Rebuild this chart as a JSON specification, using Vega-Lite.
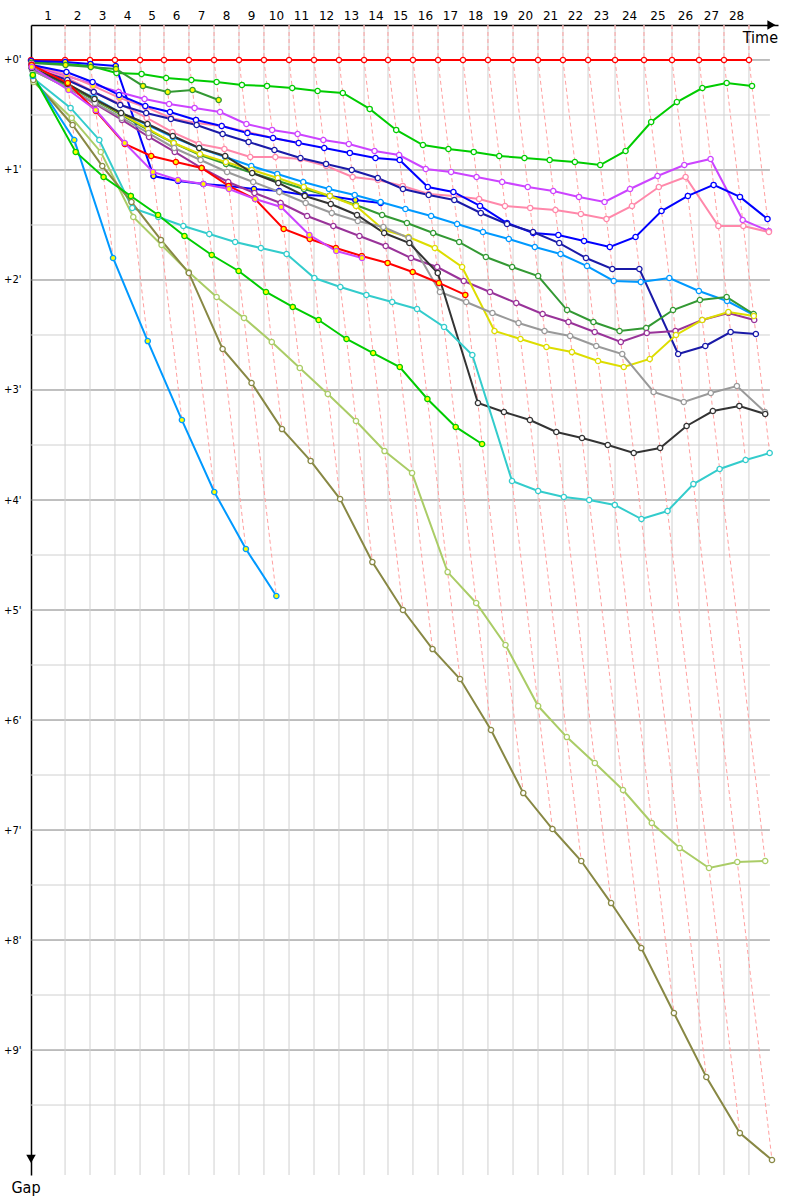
{
"$schema": "https://vega.github.io/schema/vega-lite/v6.json",
"width": 747, "height": 1150,
"autosize": {"type": "none"},
"padding": {"left": 31, "top": 25, "right": 22, "bottom": 25},
"background": "white",
"config": {"view": {"stroke": null}, "axis": {"grid": false, "ticks": false, "domainColor": "#000000", "domainWidth": 1.5, "labelColor": "#000000", "labelFont": "DejaVu Sans"}},
"datasets": {
"hgrid": [{"g":0},{"g":0.5},{"g":1},{"g":1.5},{"g":2},{"g":2.5},{"g":3},{"g":3.5},{"g":4},{"g":4.5},{"g":5},{"g":5.5},{"g":6},{"g":6.5},{"g":7},{"g":7.5},{"g":8},{"g":8.5},{"g":9},{"g":9.5}],
"laps": [{"lap":1,"tm":1.33},{"lap":2,"tm":3.63},{"lap":3,"tm":5.59},{"lap":4,"tm":7.54},{"lap":5,"tm":9.45},{"lap":6,"tm":11.37},{"lap":7,"tm":13.32},{"lap":8,"tm":15.27},{"lap":9,"tm":17.23},{"lap":10,"tm":19.18},{"lap":11,"tm":21.13},{"lap":12,"tm":23.09},{"lap":13,"tm":25.04},{"lap":14,"tm":26.95},{"lap":15,"tm":28.87},{"lap":16,"tm":30.82},{"lap":17,"tm":32.77},{"lap":18,"tm":34.73},{"lap":19,"tm":36.68},{"lap":20,"tm":38.63},{"lap":21,"tm":40.59},{"lap":22,"tm":42.54},{"lap":23,"tm":44.57},{"lap":24,"tm":46.76},{"lap":25,"tm":48.98},{"lap":26,"tm":51.13},{"lap":27,"tm":53.16},{"lap":28,"tm":55.12}],
"marks": [{"t":57.85,"g":-0.318,"s":"triangle-right"},{"t":0,"g":9.99,"s":"triangle-down"}],
"titles": [{"t":58.36,"g":-0.318,"txt":"Time"}],
"titles2": [{"t":0,"g":10.136,"txt":"Gap"}],
"pts": [
{"d":"A","l":0,"t":0,"g":0},{"d":"A","l":1,"t":2.66,"g":0},{"d":"A","l":2,"t":4.61,"g":0},{"d":"A","l":3,"t":6.56,"g":0},{"d":"A","l":4,"t":8.52,"g":0},{"d":"A","l":5,"t":10.39,"g":0},{"d":"A","l":6,"t":12.34,"g":0},{"d":"A","l":7,"t":14.3,"g":0},{"d":"A","l":8,"t":16.25,"g":0},{"d":"A","l":9,"t":18.2,"g":0},{"d":"A","l":10,"t":20.16,"g":0},{"d":"A","l":11,"t":22.11,"g":0},{"d":"A","l":12,"t":24.06,"g":0},{"d":"A","l":13,"t":26.02,"g":0},{"d":"A","l":14,"t":27.89,"g":0},{"d":"A","l":15,"t":29.84,"g":0},{"d":"A","l":16,"t":31.8,"g":0},{"d":"A","l":17,"t":33.75,"g":0},{"d":"A","l":18,"t":35.7,"g":0},{"d":"A","l":19,"t":37.66,"g":0},{"d":"A","l":20,"t":39.61,"g":0},{"d":"A","l":21,"t":41.56,"g":0},{"d":"A","l":22,"t":43.52,"g":0},{"d":"A","l":23,"t":45.63,"g":0},{"d":"A","l":24,"t":47.89,"g":0},{"d":"A","l":25,"t":50.08,"g":0},{"d":"A","l":26,"t":52.19,"g":0},{"d":"A","l":27,"t":54.14,"g":0},{"d":"A","l":28,"t":56.09,"g":0},
{"d":"B","l":0,"t":0.02,"g":0.018},{"d":"B","l":1,"t":2.69,"g":0.036},{"d":"B","l":2,"t":4.66,"g":0.055},{"d":"B","l":3,"t":6.68,"g":0.118},{"d":"B","l":4,"t":8.64,"g":0.127},{"d":"B","l":5,"t":10.56,"g":0.164},{"d":"B","l":6,"t":12.53,"g":0.182},{"d":"B","l":7,"t":14.5,"g":0.2},{"d":"B","l":8,"t":16.48,"g":0.227},{"d":"B","l":9,"t":18.44,"g":0.236},{"d":"B","l":10,"t":20.41,"g":0.255},{"d":"B","l":11,"t":22.39,"g":0.282},{"d":"B","l":12,"t":24.36,"g":0.3},{"d":"B","l":13,"t":26.46,"g":0.445},{"d":"B","l":14,"t":28.53,"g":0.636},{"d":"B","l":15,"t":30.62,"g":0.773},{"d":"B","l":16,"t":32.61,"g":0.809},{"d":"B","l":17,"t":34.59,"g":0.836},{"d":"B","l":18,"t":36.58,"g":0.873},{"d":"B","l":19,"t":38.55,"g":0.891},{"d":"B","l":20,"t":40.52,"g":0.909},{"d":"B","l":21,"t":42.49,"g":0.927},{"d":"B","l":22,"t":44.47,"g":0.955},{"d":"B","l":23,"t":46.45,"g":0.827},{"d":"B","l":24,"t":48.45,"g":0.564},{"d":"B","l":25,"t":50.46,"g":0.382},{"d":"B","l":26,"t":52.45,"g":0.255},{"d":"B","l":27,"t":54.35,"g":0.209},{"d":"B","l":28,"t":56.33,"g":0.236},
{"d":"C","l":0,"t":0.01,"g":0.009},{"d":"C","l":1,"t":2.67,"g":0.018},{"d":"C","l":2,"t":4.65,"g":0.036},{"d":"C","l":3,"t":6.62,"g":0.055},{"d":"C","l":4,"t":9.57,"g":1.055},{"d":"C","l":5,"t":11.49,"g":1.1},{"d":"C","l":6,"t":13.47,"g":1.127},{"d":"C","l":7,"t":15.44,"g":1.145},{"d":"C","l":8,"t":17.42,"g":1.173},{"d":"C","l":9,"t":19.39,"g":1.191},{"d":"C","l":10,"t":21.38,"g":1.227},{"d":"C","l":11,"t":23.35,"g":1.236},{"d":"C","l":12,"t":25.34,"g":1.273},{"d":"C","l":13,"t":27.32,"g":1.3},
{"d":"D","l":0,"t":0.03,"g":0.027},{"d":"D","l":1,"t":2.7,"g":0.045},{"d":"D","l":2,"t":4.67,"g":0.064},{"d":"D","l":3,"t":6.64,"g":0.082},{"d":"D","l":4,"t":8.75,"g":0.236},{"d":"D","l":5,"t":10.68,"g":0.291},{"d":"D","l":6,"t":12.62,"g":0.273},{"d":"D","l":7,"t":14.66,"g":0.364},
{"d":"E","l":0,"t":0.05,"g":0.055},{"d":"E","l":1,"t":2.8,"g":0.145},{"d":"E","l":2,"t":4.83,"g":0.218},{"d":"E","l":3,"t":6.85,"g":0.291},{"d":"E","l":4,"t":8.87,"g":0.355},{"d":"E","l":5,"t":10.79,"g":0.4},{"d":"E","l":6,"t":12.78,"g":0.436},{"d":"E","l":7,"t":14.77,"g":0.473},{"d":"E","l":8,"t":16.83,"g":0.582},{"d":"E","l":9,"t":18.84,"g":0.636},{"d":"E","l":10,"t":20.83,"g":0.673},{"d":"E","l":11,"t":22.84,"g":0.727},{"d":"E","l":12,"t":24.83,"g":0.764},{"d":"E","l":13,"t":26.84,"g":0.827},{"d":"E","l":14,"t":28.76,"g":0.864},{"d":"E","l":15,"t":30.84,"g":0.991},{"d":"E","l":16,"t":32.82,"g":1.018},{"d":"E","l":17,"t":34.81,"g":1.064},{"d":"E","l":18,"t":36.81,"g":1.109},{"d":"E","l":19,"t":38.81,"g":1.155},{"d":"E","l":20,"t":40.8,"g":1.191},{"d":"E","l":21,"t":42.81,"g":1.245},{"d":"E","l":22,"t":44.81,"g":1.291},{"d":"E","l":23,"t":46.8,"g":1.173},{"d":"E","l":24,"t":48.95,"g":1.055},{"d":"E","l":25,"t":51.04,"g":0.955},{"d":"E","l":26,"t":53.09,"g":0.9},{"d":"E","l":27,"t":55.6,"g":1.455},{"d":"E","l":28,"t":57.65,"g":1.555},
{"d":"F","l":0,"t":0.07,"g":0.073},{"d":"F","l":1,"t":2.82,"g":0.164},{"d":"F","l":2,"t":4.9,"g":0.291},{"d":"F","l":3,"t":6.96,"g":0.4},{"d":"F","l":4,"t":9.04,"g":0.527},{"d":"F","l":5,"t":11.05,"g":0.655},{"d":"F","l":6,"t":13.11,"g":0.764},{"d":"F","l":7,"t":15.11,"g":0.809},{"d":"F","l":8,"t":17.13,"g":0.882},{"d":"F","l":9,"t":19.09,"g":0.882},{"d":"F","l":10,"t":21.06,"g":0.9},{"d":"F","l":11,"t":23.07,"g":0.964},{"d":"F","l":12,"t":25.13,"g":1.064},{"d":"F","l":13,"t":27.11,"g":1.091},{"d":"F","l":14,"t":29.04,"g":1.145},{"d":"F","l":15,"t":31.06,"g":1.218},{"d":"F","l":16,"t":33.03,"g":1.236},{"d":"F","l":17,"t":35.01,"g":1.264},{"d":"F","l":18,"t":37.03,"g":1.327},{"d":"F","l":19,"t":39.0,"g":1.345},{"d":"F","l":20,"t":40.97,"g":1.364},{"d":"F","l":21,"t":42.96,"g":1.4},{"d":"F","l":22,"t":44.96,"g":1.445},{"d":"F","l":23,"t":46.95,"g":1.327},{"d":"F","l":24,"t":49.05,"g":1.155},{"d":"F","l":25,"t":51.14,"g":1.064},{"d":"F","l":26,"t":53.7,"g":1.509},{"d":"F","l":27,"t":55.65,"g":1.509},{"d":"F","l":28,"t":57.65,"g":1.564},
{"d":"G","l":0,"t":0.04,"g":0.036},{"d":"G","l":1,"t":2.79,"g":0.136},{"d":"G","l":2,"t":4.85,"g":0.236},{"d":"G","l":3,"t":6.91,"g":0.345},{"d":"G","l":4,"t":8.94,"g":0.427},{"d":"G","l":5,"t":10.92,"g":0.527},{"d":"G","l":6,"t":12.92,"g":0.573},{"d":"G","l":7,"t":14.9,"g":0.6},{"d":"G","l":8,"t":16.91,"g":0.655},{"d":"G","l":9,"t":18.91,"g":0.709},{"d":"G","l":10,"t":20.91,"g":0.755},
{"d":"H","l":0,"t":0.05,"g":0.045},{"d":"H","l":1,"t":2.77,"g":0.109},{"d":"H","l":2,"t":4.81,"g":0.2},{"d":"H","l":3,"t":6.88,"g":0.318},{"d":"H","l":4,"t":8.93,"g":0.418},{"d":"H","l":5,"t":10.86,"g":0.473},{"d":"H","l":6,"t":12.89,"g":0.545},{"d":"H","l":7,"t":14.9,"g":0.6},{"d":"H","l":8,"t":16.91,"g":0.664},{"d":"H","l":9,"t":18.91,"g":0.709},{"d":"H","l":10,"t":20.91,"g":0.755},{"d":"H","l":11,"t":22.91,"g":0.8},{"d":"H","l":12,"t":24.91,"g":0.845},{"d":"H","l":13,"t":26.91,"g":0.891},{"d":"H","l":14,"t":28.8,"g":0.909},{"d":"H","l":15,"t":31.0,"g":1.155},{"d":"H","l":16,"t":33.0,"g":1.2},{"d":"H","l":17,"t":35.08,"g":1.327},{"d":"H","l":18,"t":37.19,"g":1.482},{"d":"H","l":19,"t":39.23,"g":1.573},{"d":"H","l":20,"t":41.2,"g":1.591},{"d":"H","l":21,"t":43.21,"g":1.645},{"d":"H","l":22,"t":45.22,"g":1.7},{"d":"H","l":23,"t":47.23,"g":1.609},{"d":"H","l":24,"t":49.26,"g":1.373},{"d":"H","l":25,"t":51.32,"g":1.236},{"d":"H","l":26,"t":53.33,"g":1.136},{"d":"H","l":27,"t":55.39,"g":1.245},{"d":"H","l":28,"t":57.54,"g":1.445},
{"d":"I","l":0,"t":0.07,"g":0.073},{"d":"I","l":1,"t":2.84,"g":0.182},{"d":"I","l":2,"t":4.9,"g":0.291},{"d":"I","l":3,"t":6.97,"g":0.409},{"d":"I","l":4,"t":9.0,"g":0.482},{"d":"I","l":5,"t":10.93,"g":0.536},{"d":"I","l":6,"t":12.94,"g":0.591},{"d":"I","l":7,"t":14.97,"g":0.673},{"d":"I","l":8,"t":17.0,"g":0.745},{"d":"I","l":9,"t":19.02,"g":0.818},{"d":"I","l":10,"t":21.05,"g":0.891},{"d":"I","l":11,"t":23.05,"g":0.945},{"d":"I","l":12,"t":25.06,"g":1.0},{"d":"I","l":13,"t":27.09,"g":1.073},{"d":"I","l":14,"t":29.06,"g":1.173},{"d":"I","l":15,"t":31.07,"g":1.227},{"d":"I","l":16,"t":33.07,"g":1.273},{"d":"I","l":17,"t":35.14,"g":1.391},{"d":"I","l":18,"t":37.19,"g":1.491},{"d":"I","l":19,"t":39.22,"g":1.564},{"d":"I","l":20,"t":41.27,"g":1.664},{"d":"I","l":21,"t":43.36,"g":1.8},{"d":"I","l":22,"t":45.42,"g":1.9},{"d":"I","l":23,"t":47.53,"g":1.9},{"d":"I","l":24,"t":50.56,"g":2.673},{"d":"I","l":25,"t":52.68,"g":2.6},{"d":"I","l":26,"t":54.66,"g":2.473},{"d":"I","l":27,"t":56.63,"g":2.491},
{"d":"J","l":0,"t":0.09,"g":0.091},{"d":"J","l":1,"t":2.88,"g":0.227},{"d":"J","l":2,"t":4.95,"g":0.345},{"d":"J","l":3,"t":7.04,"g":0.482},{"d":"J","l":4,"t":9.11,"g":0.591},{"d":"J","l":5,"t":11.09,"g":0.7},{"d":"J","l":6,"t":13.14,"g":0.8},{"d":"J","l":7,"t":15.18,"g":0.882},{"d":"J","l":8,"t":17.21,"g":0.964},{"d":"J","l":9,"t":19.24,"g":1.036},{"d":"J","l":10,"t":21.27,"g":1.109},{"d":"J","l":11,"t":23.28,"g":1.173},{"d":"J","l":12,"t":25.29,"g":1.227},{"d":"J","l":13,"t":27.31,"g":1.291},{"d":"J","l":14,"t":29.25,"g":1.355},{"d":"J","l":15,"t":31.26,"g":1.418},{"d":"J","l":16,"t":33.29,"g":1.491},{"d":"J","l":17,"t":35.31,"g":1.564},{"d":"J","l":18,"t":37.33,"g":1.627},{"d":"J","l":19,"t":39.36,"g":1.7},{"d":"J","l":20,"t":41.37,"g":1.764},{"d":"J","l":21,"t":43.44,"g":1.873},{"d":"J","l":22,"t":45.53,"g":2.009},{"d":"J","l":23,"t":47.64,"g":2.018},{"d":"J","l":24,"t":49.87,"g":1.982},{"d":"J","l":25,"t":52.18,"g":2.1},{"d":"J","l":26,"t":54.38,"g":2.191},{"d":"J","l":27,"t":56.46,"g":2.318},
{"d":"K","l":0,"t":0.07,"g":0.073},{"d":"K","l":1,"t":2.89,"g":0.236},{"d":"K","l":2,"t":4.97,"g":0.364},{"d":"K","l":3,"t":7.06,"g":0.5},{"d":"K","l":4,"t":9.15,"g":0.636},{"d":"K","l":5,"t":11.15,"g":0.755},{"d":"K","l":6,"t":13.21,"g":0.864},{"d":"K","l":7,"t":15.24,"g":0.945},{"d":"K","l":8,"t":17.28,"g":1.027},{"d":"K","l":9,"t":19.3,"g":1.1},{"d":"K","l":10,"t":21.33,"g":1.173},{"d":"K","l":11,"t":23.35,"g":1.236},{"d":"K","l":12,"t":25.38,"g":1.318},{"d":"K","l":13,"t":27.43,"g":1.409},{"d":"K","l":14,"t":29.37,"g":1.482},{"d":"K","l":15,"t":31.42,"g":1.573},{"d":"K","l":16,"t":33.45,"g":1.655},{"d":"K","l":17,"t":35.54,"g":1.791},{"d":"K","l":18,"t":37.59,"g":1.882},{"d":"K","l":19,"t":39.62,"g":1.964},{"d":"K","l":20,"t":41.88,"g":2.273},{"d":"K","l":21,"t":43.94,"g":2.382},{"d":"K","l":22,"t":45.98,"g":2.464},{"d":"K","l":23,"t":48.06,"g":2.436},{"d":"K","l":24,"t":50.16,"g":2.273},{"d":"K","l":25,"t":52.26,"g":2.182},{"d":"K","l":26,"t":54.35,"g":2.155},{"d":"K","l":27,"t":56.45,"g":2.309},
{"d":"L","l":0,"t":0.09,"g":0.091},{"d":"L","l":1,"t":2.91,"g":0.255},{"d":"L","l":2,"t":5.01,"g":0.4},{"d":"L","l":3,"t":7.11,"g":0.545},{"d":"L","l":4,"t":9.22,"g":0.7},{"d":"L","l":5,"t":11.23,"g":0.836},{"d":"L","l":6,"t":13.33,"g":0.982},{"d":"L","l":7,"t":15.41,"g":1.109},{"d":"L","l":8,"t":17.46,"g":1.209},{"d":"L","l":9,"t":19.5,"g":1.3},{"d":"L","l":10,"t":21.57,"g":1.418},{"d":"L","l":11,"t":23.62,"g":1.509},{"d":"L","l":12,"t":25.66,"g":1.6},{"d":"L","l":13,"t":27.71,"g":1.691},{"d":"L","l":14,"t":29.69,"g":1.8},{"d":"L","l":15,"t":31.73,"g":1.882},{"d":"L","l":16,"t":33.81,"g":2.009},{"d":"L","l":17,"t":35.86,"g":2.109},{"d":"L","l":18,"t":37.91,"g":2.209},{"d":"L","l":19,"t":39.97,"g":2.309},{"d":"L","l":20,"t":41.99,"g":2.382},{"d":"L","l":21,"t":44.04,"g":2.473},{"d":"L","l":22,"t":46.08,"g":2.564},{"d":"L","l":23,"t":48.11,"g":2.482},{"d":"L","l":24,"t":50.35,"g":2.464},{"d":"L","l":25,"t":52.44,"g":2.364},{"d":"L","l":26,"t":54.49,"g":2.3},{"d":"L","l":27,"t":56.5,"g":2.364},
{"d":"M","l":0,"t":0.06,"g":0.064},{"d":"M","l":1,"t":2.87,"g":0.218},{"d":"M","l":2,"t":4.96,"g":0.355},{"d":"M","l":3,"t":7.05,"g":0.491},{"d":"M","l":4,"t":9.14,"g":0.627},{"d":"M","l":5,"t":11.15,"g":0.755},{"d":"M","l":6,"t":13.2,"g":0.855},{"d":"M","l":7,"t":15.22,"g":0.927},{"d":"M","l":8,"t":17.25,"g":1.0},{"d":"M","l":9,"t":19.28,"g":1.073},{"d":"M","l":10,"t":21.31,"g":1.155},{"d":"M","l":11,"t":23.35,"g":1.236},{"d":"M","l":12,"t":25.39,"g":1.327},{"d":"M","l":13,"t":27.56,"g":1.545},{"d":"M","l":14,"t":29.5,"g":1.609},{"d":"M","l":15,"t":31.55,"g":1.709},{"d":"M","l":16,"t":33.68,"g":1.882},{"d":"M","l":17,"t":36.21,"g":2.464},{"d":"M","l":18,"t":38.24,"g":2.536},{"d":"M","l":19,"t":40.27,"g":2.609},{"d":"M","l":20,"t":42.26,"g":2.655},{"d":"M","l":21,"t":44.3,"g":2.736},{"d":"M","l":22,"t":46.31,"g":2.791},{"d":"M","l":23,"t":48.34,"g":2.718},{"d":"M","l":24,"t":50.39,"g":2.5},{"d":"M","l":25,"t":52.44,"g":2.364},{"d":"M","l":26,"t":54.48,"g":2.291},{"d":"M","l":27,"t":56.47,"g":2.327},
{"d":"N","l":0,"t":0.09,"g":0.091},{"d":"N","l":1,"t":2.91,"g":0.255},{"d":"N","l":2,"t":5.0,"g":0.391},{"d":"N","l":3,"t":7.09,"g":0.527},{"d":"N","l":4,"t":9.18,"g":0.664},{"d":"N","l":5,"t":11.19,"g":0.8},{"d":"N","l":6,"t":13.25,"g":0.909},{"d":"N","l":7,"t":15.32,"g":1.018},{"d":"N","l":8,"t":17.36,"g":1.109},{"d":"N","l":9,"t":19.4,"g":1.2},{"d":"N","l":10,"t":21.46,"g":1.3},{"d":"N","l":11,"t":23.5,"g":1.391},{"d":"N","l":12,"t":25.53,"g":1.464},{"d":"N","l":13,"t":27.53,"g":1.518},{"d":"N","l":14,"t":29.51,"g":1.618},{"d":"N","l":15,"t":31.95,"g":2.109},{"d":"N","l":16,"t":34.0,"g":2.2},{"d":"N","l":17,"t":36.05,"g":2.3},{"d":"N","l":18,"t":38.09,"g":2.391},{"d":"N","l":19,"t":40.12,"g":2.464},{"d":"N","l":20,"t":42.12,"g":2.509},{"d":"N","l":21,"t":44.16,"g":2.6},{"d":"N","l":22,"t":46.19,"g":2.673},{"d":"N","l":23,"t":48.64,"g":3.018},{"d":"N","l":24,"t":51.0,"g":3.109},{"d":"N","l":25,"t":53.11,"g":3.027},{"d":"N","l":26,"t":55.15,"g":2.964},{"d":"N","l":27,"t":57.34,"g":3.2},
{"d":"O","l":0,"t":0.07,"g":0.073},{"d":"O","l":1,"t":2.87,"g":0.218},{"d":"O","l":2,"t":4.96,"g":0.355},{"d":"O","l":3,"t":7.04,"g":0.482},{"d":"O","l":4,"t":9.1,"g":0.582},{"d":"O","l":5,"t":11.08,"g":0.691},{"d":"O","l":6,"t":13.14,"g":0.8},{"d":"O","l":7,"t":15.17,"g":0.873},{"d":"O","l":8,"t":17.28,"g":1.027},{"d":"O","l":9,"t":19.32,"g":1.118},{"d":"O","l":10,"t":21.39,"g":1.236},{"d":"O","l":11,"t":23.42,"g":1.309},{"d":"O","l":12,"t":25.47,"g":1.409},{"d":"O","l":13,"t":27.59,"g":1.573},{"d":"O","l":14,"t":29.56,"g":1.664},{"d":"O","l":15,"t":31.78,"g":1.936},{"d":"O","l":16,"t":34.92,"g":3.118},{"d":"O","l":17,"t":36.95,"g":3.2},{"d":"O","l":18,"t":38.98,"g":3.273},{"d":"O","l":19,"t":41.04,"g":3.382},{"d":"O","l":20,"t":43.05,"g":3.436},{"d":"O","l":21,"t":45.06,"g":3.5},{"d":"O","l":22,"t":47.09,"g":3.573},{"d":"O","l":23,"t":49.15,"g":3.527},{"d":"O","l":24,"t":51.22,"g":3.327},{"d":"O","l":25,"t":53.27,"g":3.191},{"d":"O","l":26,"t":55.34,"g":3.145},{"d":"O","l":27,"t":57.36,"g":3.218},
{"d":"P","l":0,"t":0.16,"g":0.164},{"d":"P","l":1,"t":3.09,"g":0.436},{"d":"P","l":2,"t":5.34,"g":0.727},{"d":"P","l":3,"t":7.91,"g":1.345},{"d":"P","l":4,"t":9.94,"g":1.427},{"d":"P","l":5,"t":11.9,"g":1.509},{"d":"P","l":6,"t":13.93,"g":1.582},{"d":"P","l":7,"t":15.95,"g":1.655},{"d":"P","l":8,"t":17.96,"g":1.709},{"d":"P","l":9,"t":19.97,"g":1.764},{"d":"P","l":10,"t":22.14,"g":1.982},{"d":"P","l":11,"t":24.17,"g":2.064},{"d":"P","l":12,"t":26.2,"g":2.136},{"d":"P","l":13,"t":28.22,"g":2.2},{"d":"P","l":14,"t":30.16,"g":2.264},{"d":"P","l":15,"t":32.27,"g":2.427},{"d":"P","l":16,"t":34.48,"g":2.682},{"d":"P","l":17,"t":37.58,"g":3.827},{"d":"P","l":18,"t":39.62,"g":3.918},{"d":"P","l":19,"t":41.63,"g":3.973},{"d":"P","l":20,"t":43.61,"g":4.0},{"d":"P","l":21,"t":45.61,"g":4.045},{"d":"P","l":22,"t":47.69,"g":4.173},{"d":"P","l":23,"t":49.73,"g":4.1},{"d":"P","l":24,"t":51.75,"g":3.855},{"d":"P","l":25,"t":53.8,"g":3.718},{"d":"P","l":26,"t":55.83,"g":3.636},{"d":"P","l":27,"t":57.71,"g":3.573},
{"d":"Q","l":0,"t":0.2,"g":0.2},{"d":"Q","l":1,"t":3.18,"g":0.527},{"d":"Q","l":2,"t":5.45,"g":0.836},{"d":"Q","l":3,"t":7.99,"g":1.427},{"d":"Q","l":4,"t":10.2,"g":1.682},{"d":"Q","l":5,"t":12.32,"g":1.927},{"d":"Q","l":6,"t":14.5,"g":2.155},{"d":"Q","l":7,"t":16.64,"g":2.345},{"d":"Q","l":8,"t":18.81,"g":2.564},{"d":"Q","l":9,"t":21.0,"g":2.8},{"d":"Q","l":10,"t":23.19,"g":3.036},{"d":"Q","l":11,"t":25.39,"g":3.282},{"d":"Q","l":12,"t":27.62,"g":3.555},{"d":"Q","l":13,"t":29.77,"g":3.755},{"d":"Q","l":14,"t":32.55,"g":4.655},{"d":"Q","l":15,"t":34.78,"g":4.936},{"d":"Q","l":16,"t":37.07,"g":5.318},{"d":"Q","l":17,"t":39.62,"g":5.873},{"d":"Q","l":18,"t":41.86,"g":6.155},{"d":"Q","l":19,"t":44.05,"g":6.391},{"d":"Q","l":20,"t":46.25,"g":6.636},{"d":"Q","l":21,"t":48.5,"g":6.936},{"d":"Q","l":22,"t":50.68,"g":7.164},{"d":"Q","l":23,"t":52.97,"g":7.345},{"d":"Q","l":24,"t":55.18,"g":7.291},{"d":"Q","l":25,"t":57.36,"g":7.282},
{"d":"R","l":0,"t":0.18,"g":0.182},{"d":"R","l":1,"t":3.25,"g":0.591},{"d":"R","l":2,"t":5.57,"g":0.964},{"d":"R","l":3,"t":7.85,"g":1.291},{"d":"R","l":4,"t":10.15,"g":1.636},{"d":"R","l":5,"t":12.33,"g":1.936},{"d":"R","l":6,"t":14.97,"g":2.627},{"d":"R","l":7,"t":17.23,"g":2.936},{"d":"R","l":8,"t":19.61,"g":3.355},{"d":"R","l":9,"t":21.85,"g":3.645},{"d":"R","l":10,"t":24.15,"g":3.991},{"d":"R","l":11,"t":26.67,"g":4.564},{"d":"R","l":12,"t":29.06,"g":5.0},{"d":"R","l":13,"t":31.37,"g":5.355},{"d":"R","l":14,"t":33.52,"g":5.627},{"d":"R","l":15,"t":35.94,"g":6.091},{"d":"R","l":16,"t":38.46,"g":6.664},{"d":"R","l":17,"t":40.74,"g":6.991},{"d":"R","l":18,"t":42.99,"g":7.282},{"d":"R","l":19,"t":45.32,"g":7.664},{"d":"R","l":20,"t":47.68,"g":8.073},{"d":"R","l":21,"t":50.23,"g":8.664},{"d":"R","l":22,"t":52.76,"g":9.245},{"d":"R","l":23,"t":55.38,"g":9.755},{"d":"R","l":24,"t":57.89,"g":10.0},
{"d":"S","l":0,"t":0.15,"g":0.145},{"d":"S","l":1,"t":3.38,"g":0.727},{"d":"S","l":2,"t":6.41,"g":1.8},{"d":"S","l":3,"t":9.12,"g":2.555},{"d":"S","l":4,"t":11.79,"g":3.273},{"d":"S","l":5,"t":14.32,"g":3.927},{"d":"S","l":6,"t":16.79,"g":4.445},{"d":"S","l":7,"t":19.17,"g":4.873},
{"d":"T","l":0,"t":0.14,"g":0.136},{"d":"T","l":1,"t":3.49,"g":0.836},{"d":"T","l":2,"t":5.67,"g":1.064},{"d":"T","l":3,"t":7.8,"g":1.236},{"d":"T","l":4,"t":9.93,"g":1.409},{"d":"T","l":5,"t":11.99,"g":1.6},{"d":"T","l":6,"t":14.12,"g":1.773},{"d":"T","l":7,"t":16.22,"g":1.918},{"d":"T","l":8,"t":18.36,"g":2.109},{"d":"T","l":9,"t":20.45,"g":2.245},{"d":"T","l":10,"t":22.47,"g":2.364},{"d":"T","l":11,"t":24.65,"g":2.536},{"d":"T","l":12,"t":26.73,"g":2.664},{"d":"T","l":13,"t":28.81,"g":2.791},{"d":"T","l":14,"t":30.97,"g":3.082},{"d":"T","l":15,"t":33.18,"g":3.336},{"d":"T","l":16,"t":35.24,"g":3.491},
{"d":"U","l":0,"t":0.05,"g":0.045},{"d":"U","l":1,"t":2.87,"g":0.209},{"d":"U","l":2,"t":5.07,"g":0.464},{"d":"U","l":3,"t":7.33,"g":0.764},{"d":"U","l":4,"t":9.39,"g":0.873},{"d":"U","l":5,"t":11.32,"g":0.927},{"d":"U","l":6,"t":13.33,"g":0.982},{"d":"U","l":7,"t":15.44,"g":1.145},{"d":"U","l":8,"t":17.51,"g":1.264},{"d":"U","l":9,"t":19.74,"g":1.536},{"d":"U","l":10,"t":21.78,"g":1.627},{"d":"U","l":11,"t":23.82,"g":1.709},{"d":"U","l":12,"t":25.84,"g":1.782},{"d":"U","l":13,"t":27.86,"g":1.845},{"d":"U","l":14,"t":29.82,"g":1.927},{"d":"U","l":15,"t":31.87,"g":2.027},{"d":"U","l":16,"t":33.93,"g":2.136},
{"d":"V","l":0,"t":0.06,"g":0.064},{"d":"V","l":1,"t":2.93,"g":0.273},{"d":"V","l":2,"t":5.06,"g":0.455},{"d":"V","l":3,"t":7.32,"g":0.755},{"d":"V","l":4,"t":9.53,"g":1.018},{"d":"V","l":5,"t":11.48,"g":1.091},{"d":"V","l":6,"t":13.47,"g":1.127},{"d":"V","l":7,"t":15.47,"g":1.173},{"d":"V","l":8,"t":17.51,"g":1.264},{"d":"V","l":9,"t":19.54,"g":1.336},{"d":"V","l":10,"t":21.75,"g":1.591},{"d":"V","l":11,"t":23.85,"g":1.736},{"d":"V","l":12,"t":25.86,"g":1.8}
]
},
"layer": [
{
"data": {"name": "hgrid"},
"mark": {"type": "rule", "strokeWidth": 1},
"encoding": {
"x": {"datum": 0, "type": "quantitative", "scale": {"domain": [0, 58.36], "nice": false, "zero": false}, "axis": {"orient": "top", "labels": false, "ticks": false, "grid": false, "title": null, "domainColor": "#000000"}},
"x2": {"datum": 57.73},
"y": {"field": "g", "type": "quantitative", "scale": {"domain": [-0.318, 10.136], "nice": false, "zero": false, "reverse": true}, "axis": {"values": [0,1,2,3,4,5,6,7,8,9], "labelExpr": "'+' + datum.value + \"'\"", "ticks": false, "grid": false, "title": null, "labelFontSize": 10, "labelPadding": 10, "domainColor": "#000000"}},
"color": {"condition": {"test": "datum.g % 1 == 0", "value": "#808080"}, "value": "#d0d0d0"}
}
},
{
"data": {"name": "pts"},
"transform": [{"filter": "datum.d == 'A' && datum.l > 0"}],
"mark": {"type": "rule", "color": "#d0d0d0", "strokeWidth": 1},
"encoding": {
"x": {"field": "t", "type": "quantitative"},
"y": {"datum": -0.318, "type": "quantitative"},
"y2": {"datum": 10.136}
}
},
{
"data": {"name": "pts"},
"transform": [{"filter": "datum.d == 'A' && datum.l > 0"}],
"mark": {"type": "rule", "color": "#ffa0a0", "strokeWidth": 1, "strokeDash": [4, 3]},
"encoding": {
"x": {"field": "t", "type": "quantitative"},
"y": {"datum": -0.318, "type": "quantitative"},
"y2": {"datum": 0}
}
},
{
"data": {"name": "pts"},
"transform": [{"filter": "datum.l > 0"}],
"mark": {"type": "line", "color": "#ffa0a0", "strokeWidth": 1, "strokeDash": [4, 3]},
"encoding": {
"x": {"field": "t", "type": "quantitative"},
"y": {"field": "g", "type": "quantitative"},
"detail": {"field": "l", "type": "nominal"},
"order": {"field": "g", "type": "quantitative"}
}
},
{
"data": {"name": "pts"},
"mark": {"type": "line", "strokeWidth": 2},
"encoding": {
"x": {"field": "t", "type": "quantitative"},
"y": {"field": "g", "type": "quantitative"},
"color": {"field": "d", "type": "nominal", "legend": null, "scale": {"domain": ["A","B","C","D","E","F","G","H","I","J","K","L","M","N","O","P","Q","R","S","T","U","V"], "range": ["#ff0000","#00cc00","#0000ff","#339933","#cc44ff","#ff88aa","#ff88aa","#0000ff","#1a1aa8","#0099ff","#339933","#993399","#dddd00","#999999","#333333","#33cccc","#aacc66","#888844","#0099ff","#00cc00","#ff0000","#cc44ff"]}},
"order": {"field": "l", "type": "quantitative"}
}
},
{
"data": {"name": "pts"},
"mark": {"type": "point", "shape": "circle", "size": 28, "strokeWidth": 1.3, "filled": false, "opacity": 1},
"encoding": {
"x": {"field": "t", "type": "quantitative"},
"y": {"field": "g", "type": "quantitative"},
"stroke": {"field": "d", "type": "nominal", "legend": null, "scale": {"domain": ["A","B","C","D","E","F","G","H","I","J","K","L","M","N","O","P","Q","R","S","T","U","V"], "range": ["#ff0000","#00cc00","#0000ff","#339933","#cc44ff","#ff88aa","#ff88aa","#0000ff","#1a1aa8","#0099ff","#339933","#993399","#dddd00","#999999","#333333","#33cccc","#aacc66","#888844","#0099ff","#00cc00","#ff0000","#cc44ff"]}},
"fill": {"condition": {"test": "indexof(['C','D','G','S','T','U','V'], datum.d) >= 0", "value": "#ffff00"}, "value": "#ffffff"}
}
},
{
"data": {"name": "laps"},
"mark": {"type": "text", "baseline": "alphabetic", "align": "center", "dy": -5, "fontSize": 12, "font": "DejaVu Sans", "color": "#000000"},
"encoding": {
"x": {"field": "tm", "type": "quantitative"},
"y": {"datum": -0.318, "type": "quantitative"},
"text": {"field": "lap", "type": "nominal"}
}
},
{
"data": {"name": "marks"},
"mark": {"type": "point", "filled": true, "color": "#000000", "size": 90, "opacity": 1},
"encoding": {
"x": {"field": "t", "type": "quantitative"},
"y": {"field": "g", "type": "quantitative"},
"shape": {"field": "s", "type": "nominal", "scale": null}
}
},
{
"data": {"name": "titles"},
"mark": {"type": "text", "fontSize": 16, "font": "DejaVu Sans Condensed", "color": "#000000", "align": "right", "baseline": "middle", "dy": 13},
"encoding": {
"x": {"field": "t", "type": "quantitative"},
"y": {"field": "g", "type": "quantitative"},
"text": {"field": "txt", "type": "nominal"}
}
},
{
"data": {"name": "titles2"},
"mark": {"type": "text", "fontSize": 16, "font": "DejaVu Sans Condensed", "color": "#000000", "align": "center", "baseline": "middle", "dy": 13, "dx": -5},
"encoding": {
"x": {"field": "t", "type": "quantitative"},
"y": {"field": "g", "type": "quantitative"},
"text": {"field": "txt", "type": "nominal"}
}
}
]
}
